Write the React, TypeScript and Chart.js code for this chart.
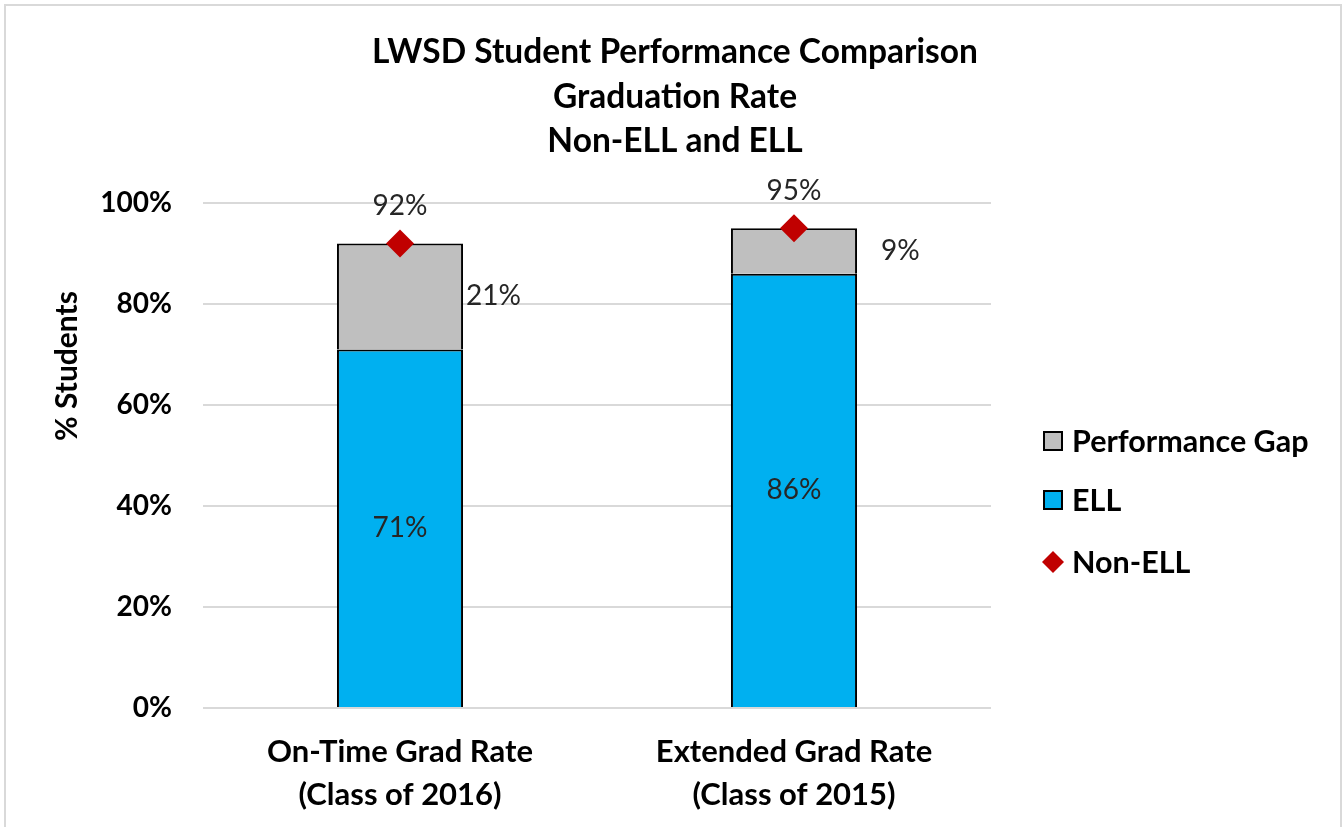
import React, { useEffect, useRef } from "react";
import { Chart, registerables } from "chart.js";

Chart.register(...registerables);

// ---- data ----
const categories: string[][] = [
  ["On-Time Grad Rate", "(Class of 2016)"],
  ["Extended Grad Rate", "(Class of 2015)"],
];
const ellValues = [71, 86];
const gapValues = [21, 9];
const nonEllValues = [92, 95];
const yTickStep = 20;
const yMin = 0;
const yMax = 100;
const titleLines = ["LWSD Student Performance Comparison", "Graduation Rate", "Non-ELL and ELL"];
const yAxisTitle = "% Students";
const legendLabels = ["Performance Gap", "ELL", "Non-ELL"];

// ---- style ----
const FONT = "Lato";
const ELL_COLOR = "#00B0F0";
const GAP_COLOR = "#BFBFBF";
const NONELL_COLOR = "#C00000";
const LABEL_COLOR = "#262626";
const gapLabelOffsets = [3, 24];

const pct = (v: number) => `${v}%`;

const labelsPlugin = {
  id: "customLabels",
  afterDatasetsDraw(chart: any) {
    const ctx = chart.ctx;
    ctx.save();
    ctx.fillStyle = LABEL_COLOR;
    ctx.font = `28px ${FONT}`;
    ctx.textBaseline = "middle";
    const ellMeta = chart.getDatasetMeta(1);
    ellMeta.data.forEach((el: any, i: number) => {
      ctx.textAlign = "center";
      ctx.fillText(pct(ellValues[i]), el.x, (el.y + el.base) / 2);
    });
    const gapMeta = chart.getDatasetMeta(2);
    gapMeta.data.forEach((el: any, i: number) => {
      ctx.textAlign = "left";
      ctx.fillText(pct(gapValues[i]), el.x + el.width / 2 + gapLabelOffsets[i], (el.y + el.base) / 2);
    });
    const neMeta = chart.getDatasetMeta(0);
    neMeta.data.forEach((el: any, i: number) => {
      ctx.textAlign = "center";
      ctx.fillText(pct(nonEllValues[i]), el.x, el.y - 37);
    });
    ctx.restore();
  },
  afterDraw(chart: any) {
    const ctx = chart.ctx;
    // title
    ctx.save();
    ctx.fillStyle = "#000";
    ctx.font = `bold 33.5px ${FONT}`;
    ctx.textAlign = "center";
    ctx.textBaseline = "middle";
    const titleY = [52, 97, 141];
    titleLines.forEach((t, i) => ctx.fillText(t, 675, titleY[i]));
    ctx.restore();

    // y-axis title
    ctx.save();
    ctx.fillStyle = "#000";
    ctx.font = `bold 30px ${FONT}`;
    ctx.textAlign = "center";
    ctx.textBaseline = "middle";
    ctx.translate(67, 366);
    ctx.rotate(-Math.PI / 2);
    ctx.fillText(yAxisTitle, 0, 0);
    ctx.restore();

    // legend
    ctx.save();
    const lx = 1043;
    const ys = [441, 500, 562];
    const colors = [GAP_COLOR, ELL_COLOR, NONELL_COLOR];
    ctx.font = `bold 30.5px ${FONT}`;
    ctx.textAlign = "left";
    ctx.textBaseline = "middle";
    legendLabels.forEach((lab, i) => {
      const y = ys[i];
      if (i < 2) {
        ctx.fillStyle = colors[i];
        ctx.fillRect(lx + 1, y - 9, 18, 18);
        ctx.strokeStyle = "#000";
        ctx.lineWidth = 2;
        ctx.strokeRect(lx + 1, y - 9, 18, 18);
      } else {
        ctx.fillStyle = colors[i];
        ctx.beginPath();
        ctx.moveTo(lx + 10 - 11, y);
        ctx.lineTo(lx + 10, y - 11);
        ctx.lineTo(lx + 10 + 11, y);
        ctx.lineTo(lx + 10, y + 11);
        ctx.closePath();
        ctx.fill();
      }
      ctx.fillStyle = "#000";
      ctx.fillText(lab, 1072, y + 1);
    });
    ctx.restore();
  },
};

export default function App() {
  const ref = useRef<HTMLCanvasElement | null>(null);

  useEffect(() => {
    if (!ref.current) return;
    const chart = new Chart(ref.current, {
      type: "bar",
      data: {
        labels: categories as any,
        datasets: [
          {
            type: "line",
            label: "Non-ELL",
            data: nonEllValues,
            showLine: false,
            pointStyle: "rectRot",
            pointRadius: 14,
            pointHoverRadius: 14,
            pointBorderWidth: 0,
            backgroundColor: NONELL_COLOR,
            borderColor: NONELL_COLOR,
            stack: "marker",
            order: 0,
          } as any,
          {
            type: "bar",
            label: "ELL",
            data: ellValues,
            backgroundColor: ELL_COLOR,
            borderColor: "#000",
            borderWidth: 2,
            stack: "s",
            order: 1,
            barPercentage: 0.32,
            categoryPercentage: 1,
          },
          {
            type: "bar",
            label: "Performance Gap",
            data: gapValues,
            backgroundColor: GAP_COLOR,
            borderColor: "#000",
            borderWidth: 2,
            stack: "s",
            order: 2,
            barPercentage: 0.32,
            categoryPercentage: 1,
          },
        ],
      },
      options: {
        responsive: false,
        animation: false,
        devicePixelRatio: 1,
        layout: { padding: { left: 0, right: 352, top: 203, bottom: 0 } },
        plugins: {
          legend: { display: false },
          tooltip: { enabled: false },
          title: { display: false },
        },
        scales: {
          x: {
            stacked: true,
            grid: { display: false, drawTicks: false },
            border: { display: false },
            ticks: {
              color: "#000",
              font: { family: FONT, size: 31, weight: "bold", lineHeight: 1.4 },
              padding: 22,
              maxRotation: 0,
            },
            afterFit: (s: any) => {
              s.height = 119;
            },
          },
          y: {
            stacked: true,
            min: yMin,
            max: yMax,
            grid: { color: "#D9D9D9", lineWidth: 2, drawTicks: false },
            border: { display: false },
            ticks: {
              stepSize: yTickStep,
              color: "#000",
              font: { family: FONT, size: 28, weight: "bold" },
              padding: 31,
              callback: (v: any) => pct(Number(v)),
            },
            afterFit: (s: any) => {
              s.width = 203;
            },
          },
        },
      },
      plugins: [labelsPlugin],
    });
    return () => chart.destroy();
  }, []);

  return (
    <div style={{ position: "absolute", left: 0, top: 0, width: 1343, height: 827, background: "#fff", overflow: "hidden" }}>
      <div
        style={{
          position: "absolute",
          left: 4,
          top: 4,
          width: 1338,
          height: 823,
          boxSizing: "border-box",
          border: "2px solid #D9D9D9",
          borderBottom: "none",
        }}
      />
      <canvas ref={ref} width={1343} height={827} style={{ position: "absolute", left: 0, top: 0 }} />
    </div>
  );
}
